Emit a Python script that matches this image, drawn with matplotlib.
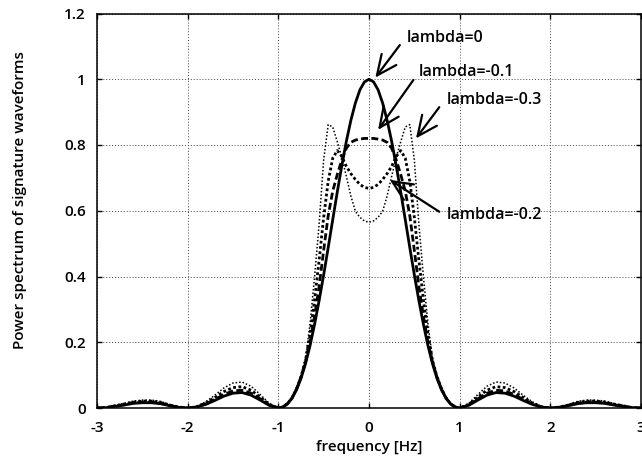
import numpy as np
import matplotlib
matplotlib.use("Agg")
import matplotlib.pyplot as plt

plt.rcParams['font.family'] = ['Open Sans', 'DejaVu Sans']
plt.rcParams['font.weight'] = 'semibold'
plt.rcParams['axes.unicode_minus'] = False

# grille en frequence: pas de 0.1 sur les lobes lateraux, 0.05 sur le lobe principal
freq = np.round(np.concatenate([np.arange(-3.0, -1.05, 0.1),
                                np.arange(-1.0, 0.999, 0.05),
                                np.arange(1.0, 3.001, 0.1)]), 2)

# spectres
p_l0 = [0, .001, .005, .009, .014, .016, .016, .013, .007, .002,
        0, .003, .011, .023, .036, .045, .047, .039, .024, .008,
        0, .003, .012, .029, .055, .090, .135, .190, .255, .327,
        .405, .488, .573, .657, .737, .811, .875, .928, .968, .992,
        1.000,
        .992, .968, .928, .875, .811, .737, .657, .573, .488, .405,
        .327, .255, .190, .135, .090, .055, .029, .012, .003, 0,
        .008, .024, .039, .047, .045, .036, .023, .011, .003, 0,
        .002, .007, .013, .016, .016, .014, .009, .005, .001, 0]

p_l1 = [0, .001, .006, .010, .016, .018, .018, .015, .008, .002,
        0, .003, .013, .026, .041, .052, .054, .045, .028, .009,
        0, .003, .013, .030, .057, .093, .140, .200, .280, .370,
        .480, .585, .660, .710, .755, .790, .808, .815, .818, .820,
        .820,
        .820, .818, .815, .808, .790, .755, .710, .660, .585, .480,
        .370, .280, .200, .140, .093, .057, .030, .013, .003, 0,
        .009, .028, .045, .054, .052, .041, .026, .013, .003, 0,
        .002, .008, .015, .018, .018, .016, .010, .006, .001, 0]

p_l2 = [0, .001, .007, .012, .018, .021, .021, .017, .009, .003,
        0, .004, .015, .032, .050, .062, .065, .054, .033, .011,
        0, .003, .013, .031, .058, .095, .145, .225, .330, .450,
        .580, .690, .760, .783, .765, .735, .713, .695, .680, .671,
        .668,
        .671, .680, .695, .713, .735, .765, .783, .760, .690, .580,
        .450, .330, .225, .145, .095, .058, .031, .013, .003, 0,
        .011, .033, .054, .065, .062, .050, .032, .015, .004, 0,
        .003, .009, .017, .021, .021, .018, .012, .007, .001, 0]

p_l3 = [0, .002, .008, .014, .021, .024, .024, .020, .011, .003,
        0, .005, .019, .039, .061, .076, .079, .066, .041, .014,
        0, .004, .014, .033, .062, .100, .150, .257, .400, .560,
        .755, .862, .855, .810, .762, .705, .645, .598, .580, .569,
        .565,
        .569, .580, .598, .645, .705, .762, .810, .855, .862, .755,
        .560, .400, .257, .150, .100, .062, .033, .014, .004, 0,
        .014, .041, .066, .079, .076, .061, .039, .019, .005, 0,
        .003, .011, .020, .024, .024, .021, .014, .008, .002, 0]

x_ticks = [-3, -2, -1, 0, 1, 2, 3]
y_ticks = [0, 0.2, 0.4, 0.6, 0.8, 1, 1.2]
y_tick_labels = ['0', '0.2', '0.4', '0.6', '0.8', '1', '1.2']

# (texte, position du texte, debut de la fleche, pointe)
notes = [('lambda=0', (0.415, 1.125), (0.34, 1.104), (0.07, 1.005)),
         ('lambda=-0.1', (0.544, 1.023), (0.49, 0.998), (0.10, 0.846)),
         ('lambda=-0.3', (0.857, 0.937), (0.775, 0.915), (0.518, 0.82)),
         ('lambda=-0.2', (0.857, 0.587), (0.775, 0.597), (0.23, 0.694))]

fig = plt.figure(figsize=(6.42, 4.68), dpi=100)
ax = fig.add_axes([97 / 642, 60 / 468, 544 / 642, 394.5 / 468])

ax.plot(freq, p_l3, color='black', lw=1.1, ls=(0, (1, 1.3)))
ax.plot(freq, p_l2, color='black', lw=2.0, ls=(0, (1, 0.9)))
ax.plot(freq, p_l1, color='black', lw=2.0, ls=(0, (2.5, 1.2)))
ax.plot(freq, p_l0, color='black', lw=2.0)

ax.set_xlim(-3, 3)
ax.set_ylim(0, 1.2)
ax.set_xticks(x_ticks)
ax.set_yticks(y_ticks)
ax.set_yticklabels(y_tick_labels)
ax.grid(True, color='#444444', lw=0.7, ls=(0, (1, 2)))
ax.tick_params(direction='in', top=True, right=True, length=3.5, width=1,
               labelsize=11)
ax.tick_params(axis='x', pad=9)
ax.tick_params(axis='y', pad=8)
for s in ax.spines.values():
    s.set_linewidth(1.1)

for txt, pos, start, tip in notes:
    ax.text(pos[0], pos[1], txt, fontsize=11.5, ha='left', va='center')
    ax.annotate('', xy=tip, xytext=start,
                arrowprops=dict(arrowstyle='->,head_length=1.2,head_width=0.55',
                                lw=1.6, color='black', shrinkA=0, shrinkB=0,
                                mutation_scale=12))

fig.text(20 / 642, 1 - 200 / 468, 'Power spectrum of signature waveforms',
         rotation=90, ha='center', va='center', fontsize=11)
fig.text(369 / 642, 1 - 447 / 468, 'frequency [Hz]', ha='center', va='center',
         fontsize=11)

fig.savefig('out.png', dpi=100)
